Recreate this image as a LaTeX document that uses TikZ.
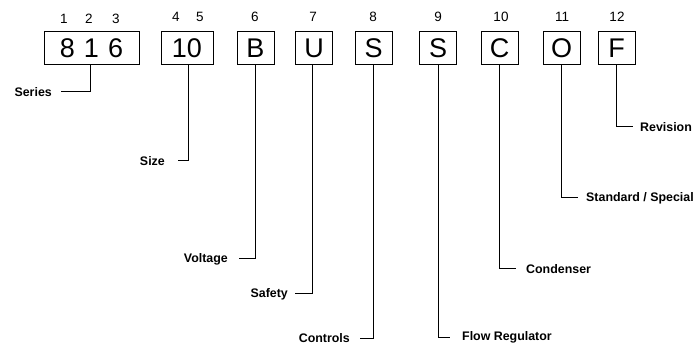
\documentclass[tikz,border=0pt]{standalone}
\usepackage{fontspec}
\setmainfont{Liberation Sans}
\begin{document}
\begin{tikzpicture}[x=1pt,y=-1pt,
  codebox/.style={draw,line width=1pt,inner sep=0pt,minimum height=33pt,minimum width=37pt,font=\fontsize{27}{27}\selectfont},
  posnum/.style={inner sep=0pt,font=\fontsize{13.5}{13.5}\selectfont},
  lab/.style={inner ysep=0pt,inner xsep=0pt,font=\bfseries\fontsize{12.4}{12.4}\selectfont},
  conn/.style={line width=1pt}]
\useasboundingbox (0,0) rectangle (696,347);
% boxes
\node[codebox,minimum width=95pt] (b1) at (91.5,48.5) {8\hspace{9.2pt}1\hspace{9.2pt}6};
\node[codebox,minimum width=52pt] (b2) at (187,48.5) {10};
\node[codebox] (b3) at (255.5,48.5) {B};
\node[codebox] (b4) at (314,48.5) {U};
\node[codebox] (b5) at (373.5,48.5) {S};
\node[codebox] (b6) at (438,48.5) {S};
\node[codebox] (b7) at (499.5,48.5) {C};
\node[codebox] (b8) at (561.5,48.5) {O};
\node[codebox] (b9) at (616.5,48.5) {F};
% position numbers
\node[posnum] (n1) at (64,19) {1};
\node[posnum] (n2) at (89,19) {2};
\node[posnum] (n3) at (116,19) {3};
\node[posnum] (n4) at (176,17) {4};
\node[posnum] (n5) at (200,17) {5};
\node[posnum] (n6) at (255,17) {6};
\node[posnum] (n7) at (313,17) {7};
\node[posnum] (n8) at (373,17) {8};
\node[posnum] (n9) at (438,17) {9};
\node[posnum] (n10) at (501,17) {10};
\node[posnum] (n11) at (562,17) {11};
\node[posnum] (n12) at (617,17) {12};
% labels
\node[lab,anchor=east] (l1) at (52,92) {Series};
\node[lab,anchor=east] (l2) at (165,161) {Size};
\node[lab,anchor=east] (l3) at (228,259) {Voltage};
\node[lab,anchor=east] (l4) at (288,294) {Safety};
\node[lab,anchor=east] (l5) at (350,338) {Controls};
\node[lab,anchor=west] (l6) at (462,337) {Flow Regulator};
\node[lab,anchor=west] (l7) at (526,269) {Condenser};
\node[lab,anchor=west] (l8) at (586,198) {Standard / Special};
\node[lab,anchor=west] (l9) at (640,127) {Revision};
% connectors
\draw[conn] ([xshift=-1.5pt]b1.south) |- ([xshift=9pt]l1.east);
\draw[conn] ([xshift=1pt]b2.south) |- ([xshift=13pt]l2.east);
\draw[conn] (b3.south) |- ([xshift=11pt]l3.east);
\draw[conn] ([xshift=-2pt]b4.south) |- ([xshift=7pt]l4.east);
\draw[conn] (b5.south) |- ([xshift=10pt]l5.east);
\draw[conn] (b6.south) |- ([xshift=-12pt]l6.west);
\draw[conn] (b7.south) |- ([xshift=-10pt]l7.west);
\draw[conn] (b8.south) |- ([xshift=-8pt]l8.west);
\draw[conn] (b9.south) |- ([xshift=-7pt]l9.west);
\end{tikzpicture}
\end{document}
